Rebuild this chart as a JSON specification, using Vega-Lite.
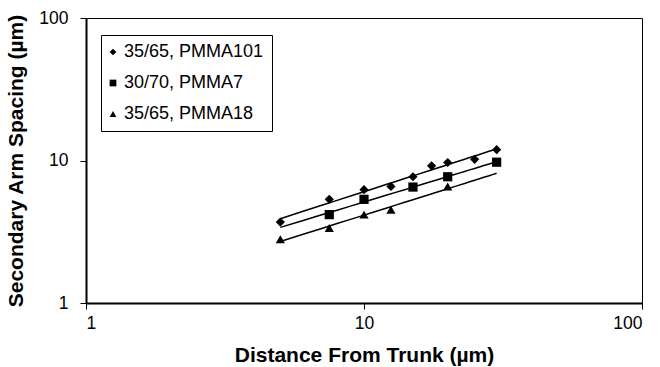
{
  "$schema": "https://vega.github.io/schema/vega-lite/v6.json",
  "width": 556,
  "height": 285,
  "autosize": {"type": "none"},
  "padding": {"left": 86, "top": 18, "right": 18, "bottom": 64},
  "background": "white",
  "config": {
    "font": "Liberation Sans",
    "view": {"stroke": "#000", "strokeWidth": 1},
    "axis": {
      "labelFont": "Liberation Sans",
      "labelFontSize": 17.5,
      "labelColor": "#000",
      "titleFont": "Liberation Sans",
      "titleFontSize": 21,
      "titleFontWeight": "bold",
      "titleColor": "#000",
      "domainColor": "#000",
      "domainWidth": 2,
      "tickColor": "#000",
      "tickWidth": 1,
      "tickSize": 6,
      "grid": false
    }
  },
  "data": {
    "values": [
      {"series": "35/65, PMMA101", "x": 5, "y": 3.7},
      {"series": "35/65, PMMA101", "x": 7.5, "y": 5.34},
      {"series": "35/65, PMMA101", "x": 10, "y": 6.24},
      {"series": "35/65, PMMA101", "x": 12.5, "y": 6.58},
      {"series": "35/65, PMMA101", "x": 15, "y": 7.69},
      {"series": "35/65, PMMA101", "x": 17.5, "y": 9.18},
      {"series": "35/65, PMMA101", "x": 20, "y": 9.68},
      {"series": "35/65, PMMA101", "x": 25, "y": 10.2},
      {"series": "35/65, PMMA101", "x": 30, "y": 11.9},
      {"series": "30/70, PMMA7", "x": 7.5, "y": 4.17},
      {"series": "30/70, PMMA7", "x": 10, "y": 5.34},
      {"series": "30/70, PMMA7", "x": 15, "y": 6.51},
      {"series": "30/70, PMMA7", "x": 20, "y": 7.69},
      {"series": "30/70, PMMA7", "x": 30, "y": 9.73},
      {"series": "35/65, PMMA18", "x": 5, "y": 2.8},
      {"series": "35/65, PMMA18", "x": 7.5, "y": 3.36},
      {"series": "35/65, PMMA18", "x": 10, "y": 4.17},
      {"series": "35/65, PMMA18", "x": 12.5, "y": 4.52},
      {"series": "35/65, PMMA18", "x": 20, "y": 6.58}
    ]
  },
  "encoding": {
    "x": {
      "field": "x", "type": "quantitative",
      "scale": {"type": "log", "domain": [1, 100], "nice": false},
      "axis": {"values": [1, 10, 100], "format": "d", "labelPadding": 5, "title": "Distance From Trunk (µm)", "titlePadding": 13}
    },
    "y": {
      "field": "y", "type": "quantitative",
      "scale": {"type": "log", "domain": [1, 100], "nice": false},
      "axis": {"values": [1, 10, 100], "format": "d", "labelPadding": 12, "title": "Secondary Arm Spacing (µm)", "titlePadding": 12}
    }
  },
  "layer": [
    {
      "transform": [
        {"regression": "y", "on": "x", "groupby": ["series"], "method": "pow", "extent": [5, 30]}
      ],
      "mark": {"type": "line", "color": "#000", "strokeWidth": 1.5},
      "encoding": {"detail": {"field": "series", "type": "nominal"}}
    },
    {
      "mark": {"type": "point", "filled": true, "color": "#000", "opacity": 1, "size": 85},
      "encoding": {
        "shape": {
          "field": "series", "type": "nominal",
          "scale": {"domain": ["35/65, PMMA101", "30/70, PMMA7", "35/65, PMMA18"], "range": ["diamond", "square", "triangle-up"]},
          "legend": {
            "title": null,
            "orient": "none",
            "legendX": 15,
            "legendY": 17,
            "strokeColor": "#000",
            "fillColor": "#fff",
            "padding": 8,
            "rowPadding": 13,
            "symbolSize": 45,
            "symbolOffset": -5,
            "symbolFillColor": "#000",
            "symbolStrokeColor": "#000",
            "labelFont": "Liberation Sans",
            "labelFontSize": 18,
            "labelColor": "#000",
            "labelOffset": 2
          }
        }
      }
    }
  ]
}
